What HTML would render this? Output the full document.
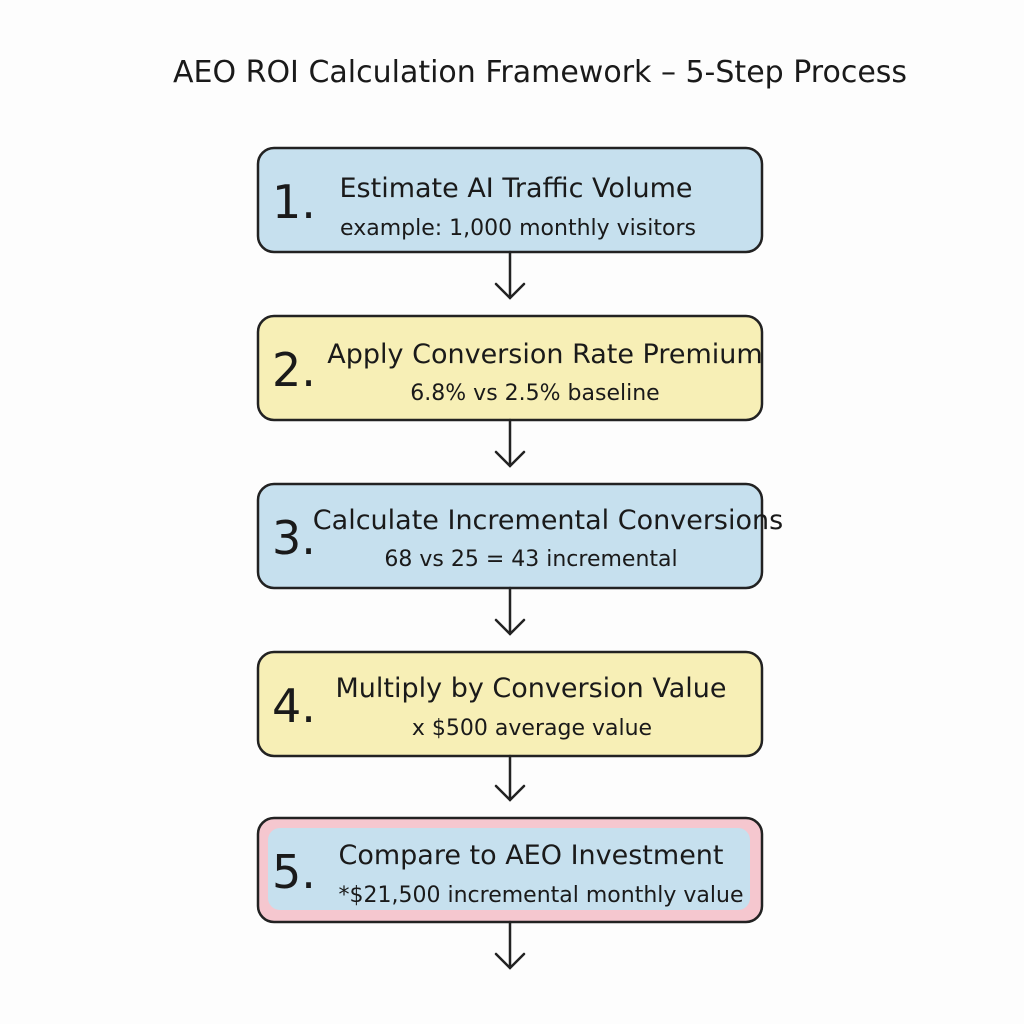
<!DOCTYPE html>
<html><head><meta charset="utf-8"><style>
html,body{margin:0;padding:0;background:#fdfdfd;}
svg{display:block}
text{font-family:"Comic Sans MS","DejaVu Sans","Liberation Sans",sans-serif;fill:#1a1a1a}
</style></head><body>
<svg width="1024" height="1024" viewBox="0 0 1024 1024">
<rect width="1024" height="1024" fill="#fdfdfd"/>
<text x="540" y="82" font-size="30" text-anchor="middle">AEO ROI Calculation Framework – 5-Step Process</text>
<g stroke="#222" stroke-width="2.5" fill="none" stroke-linecap="round">
<rect x="258" y="148" width="504" height="104" rx="16" fill="#c6e0ee"/>
<rect x="258" y="316" width="504" height="104" rx="16" fill="#f7efb6"/>
<rect x="258" y="484" width="504" height="104" rx="16" fill="#c6e0ee"/>
<rect x="258" y="652" width="504" height="104" rx="16" fill="#f7efb6"/>
<rect x="258" y="818" width="504" height="104" rx="16" fill="#f5c7cf"/>
<rect x="268" y="828" width="482" height="82" rx="12" fill="#c6e0ee" stroke="none"/>
<path d="M510 252V298M496 284L510 298L524 284"/>
<path d="M510 420V466M496 452L510 466L524 452"/>
<path d="M510 588V634M496 620L510 634L524 620"/>
<path d="M510 756V800M496 786L510 800L524 786"/>
<path d="M510 922V968M496 954L510 968L524 954"/>
</g>
<g font-size="46">
<text x="272" y="218">1.</text>
<text x="272" y="386">2.</text>
<text x="272" y="554">3.</text>
<text x="272" y="722">4.</text>
<text x="272" y="888">5.</text>
</g>
<g font-size="27" text-anchor="middle">
<text x="516" y="197">Estimate AI Traffic Volume</text>
<text x="545" y="363">Apply Conversion Rate Premium</text>
<text x="548" y="529">Calculate Incremental Conversions</text>
<text x="531" y="697">Multiply by Conversion Value</text>
<text x="531" y="864">Compare to AEO Investment</text>
</g>
<g font-size="22" text-anchor="middle">
<text x="518" y="235">example: 1,000 monthly visitors</text>
<text x="535" y="400">6.8% vs 2.5% baseline</text>
<text x="531" y="566">68 vs 25 = 43 incremental</text>
<text x="532" y="735">x $500 average value</text>
<text x="541" y="902">*$21,500 incremental monthly value</text>
</g>
</svg>
</body></html>
